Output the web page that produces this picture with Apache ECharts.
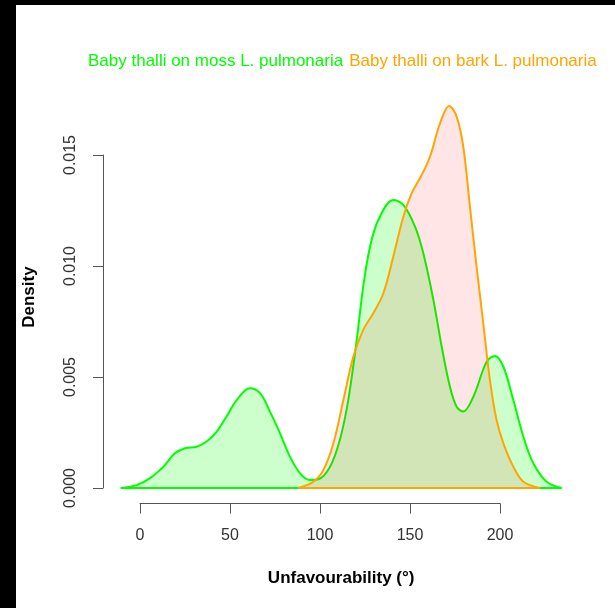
<!DOCTYPE html>
<html>
<head>
<meta charset="utf-8">
<script src="https://cdn.jsdelivr.net/npm/echarts@6/dist/echarts.min.js"></script>
<style>
html,body{margin:0;padding:0;background:#fff;}
#chart{width:615px;height:608px;}
</style>
</head>
<body>
<div id="chart"></div>
<script>
// Kernel density curves
const mossX = [-10.7, -1.8, 5.6, 13, 19.4, 25, 31.5, 37, 42.6, 48, 53.7, 61, 66.7, 72.2, 77.8, 83.3, 88.9, 94.4, 99, 105.6, 111, 115.7, 120.4, 124, 127.8, 132.4, 140.7, 146.3, 152.8, 157.4, 163, 167.6, 172.2, 175.9, 179.6, 185.2, 192.6, 197.2, 201.9, 207.4, 213, 218.5, 225.9, 234.3];
const mossY = [0, 0.00013, 0.00044, 0.00096, 0.00156, 0.00179, 0.00186, 0.00209, 0.00254, 0.00321, 0.00396, 0.00449, 0.00427, 0.00344, 0.00246, 0.00141, 0.00066, 0.00036, 0.00039, 0.00096, 0.00216, 0.00396, 0.00667, 0.00907, 0.01087, 0.01207, 0.01297, 0.01275, 0.01177, 0.01057, 0.00847, 0.00637, 0.00456, 0.00366, 0.00344, 0.00411, 0.00569, 0.00595, 0.00546, 0.00396, 0.00231, 0.00111, 0.00028, 0];
const barkX = [88, 96.3, 101.9, 107.4, 113, 118.5, 124, 129.6, 135.2, 140.7, 146.3, 150.9, 156.5, 161.1, 166.7, 171.7, 175.9, 179.6, 183.3, 187, 190.7, 194.4, 198.1, 201.9, 207.4, 213, 222.2];
const barkY = [0, 0.00028, 0.00081, 0.002, 0.00396, 0.00591, 0.00712, 0.00787, 0.00877, 0.01042, 0.01222, 0.01327, 0.0141, 0.01492, 0.01643, 0.01721, 0.01673, 0.01538, 0.01267, 0.00997, 0.00742, 0.00486, 0.00306, 0.00201, 0.00096, 0.00028, 0];
const seriesNames = ['Baby thalli on moss L. pulmonaria', 'Baby thalli on bark L. pulmonaria'];
const xTicks = [0, 50, 100, 150, 200];
const yTicks = [0, 0.005, 0.010, 0.015];

const pairs = (xs, ys) => xs.map((x, i) => [x, ys[i]]);
const base = xs => [[xs[0], 0], [xs[xs.length - 1], 0]];

const chart = echarts.init(document.getElementById('chart'), null, {renderer: 'canvas'});
const font = 'Liberation Sans, Arial, sans-serif';
const axisCol = '#555';
chart.setOption({
  animation: false,
  backgroundColor: '#fff',
  textStyle: {fontFamily: font},
  graphic: [
    {type: 'rect', shape: {x: 0, y: 0, width: 615, height: 5}, style: {fill: '#000'}, z: 100},
    {type: 'rect', shape: {x: 0, y: 0, width: 16, height: 608}, style: {fill: '#000'}, z: 100}
  ],
  legend: {
    left: 78, top: 48,
    icon: 'none', itemWidth: 0, itemHeight: 10, itemGap: 1,
    textStyle: {fontSize: 17, fontFamily: font},
    data: [
      {name: seriesNames[0], textStyle: {color: '#00ff00'}},
      {name: seriesNames[1], textStyle: {color: '#ffa500'}}
    ],
    selectedMode: false
  },
  grid: [
    {left: 103.1, top: 90.6, width: 476.1, height: 412.9},
    {left: 140, top: 155, width: 360, height: 333}
  ],
  xAxis: [
    {gridIndex: 0, type: 'value', min: -20.5, max: 244, axisLine: {show: false}, axisTick: {show: false},
     axisLabel: {show: false}, splitLine: {show: false},
     name: 'Unfavourability (°)', nameLocation: 'middle', nameGap: 66,
     nameTextStyle: {fontSize: 17, fontWeight: 'bold', color: '#000', fontFamily: font}},
    {gridIndex: 1, type: 'value', min: 0, max: 200, interval: 50, offset: 15.5,
     axisLine: {show: true, onZero: false, lineStyle: {color: axisCol, width: 1}},
     axisTick: {show: true, length: 10, lineStyle: {color: axisCol}},
     axisLabel: {fontSize: 16, color: '#333', margin: 24, fontFamily: font},
     splitLine: {show: false}}
  ],
  yAxis: [
    {gridIndex: 0, type: 'value', min: -0.0007, max: 0.0179, axisLine: {show: false}, axisTick: {show: false},
     axisLabel: {show: false}, splitLine: {show: false},
     name: 'Density', nameLocation: 'middle', nameGap: 65, nameRotate: 90,
     nameTextStyle: {fontSize: 17, fontWeight: 'bold', color: '#000', fontFamily: font}},
    {gridIndex: 1, type: 'value', min: 0, max: 0.015, interval: 0.005, offset: 37,
     axisLine: {show: true, onZero: false, lineStyle: {color: axisCol, width: 1}},
     axisTick: {show: true, length: 10, lineStyle: {color: axisCol}},
     axisLabel: {fontSize: 16, color: '#333', margin: 24, rotate: 90, fontFamily: font,
       formatter: v => v.toFixed(3)},
     splitLine: {show: false}}
  ],
  series: [
    {name: seriesNames[0], type: 'line', xAxisIndex: 0, yAxisIndex: 0, data: pairs(mossX, mossY),
     smooth: 0.35, showSymbol: false, lineStyle: {color: '#00ff00', width: 2}, itemStyle: {color: '#00ff00'},
     areaStyle: {color: 'rgba(0,255,0,0.2)', opacity: 1}, z: 2},
    {name: 'moss-base', type: 'line', xAxisIndex: 0, yAxisIndex: 0, data: base(mossX),
     showSymbol: false, lineStyle: {color: '#00ff00', width: 2}, z: 2},
    {name: seriesNames[1], type: 'line', xAxisIndex: 0, yAxisIndex: 0, data: pairs(barkX, barkY),
     smooth: 0.35, showSymbol: false, lineStyle: {color: '#ffa500', width: 2}, itemStyle: {color: '#ffa500'},
     areaStyle: {color: 'rgba(255,0,0,0.1)', opacity: 1}, z: 3},
    {name: 'bark-base', type: 'line', xAxisIndex: 0, yAxisIndex: 0, data: base(barkX),
     showSymbol: false, lineStyle: {color: '#ffa500', width: 2}, z: 3}
  ]
});
</script>
</body>
</html>
